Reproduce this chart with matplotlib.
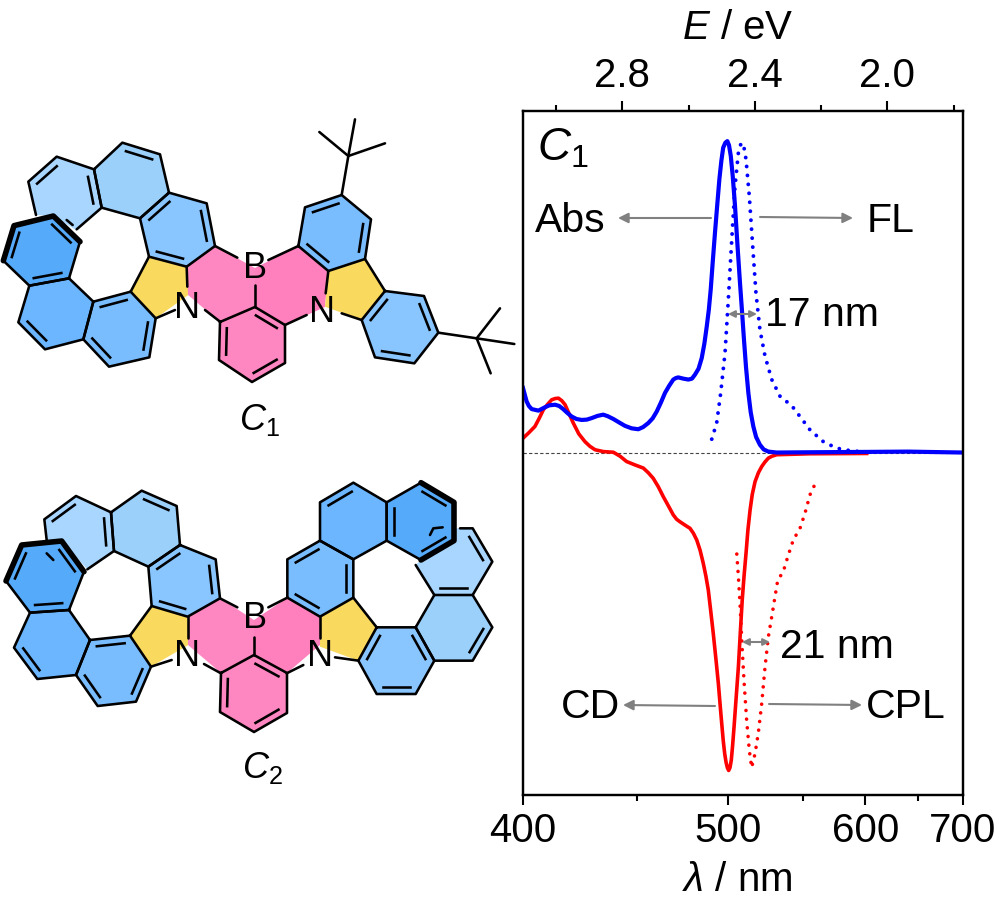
# plot.py - structures of C1 / C2 and their Abs, FL, CD, CPL spectra
import numpy as np
import matplotlib
matplotlib.use('Agg')
import matplotlib.pyplot as plt
from matplotlib.ticker import NullFormatter

plt.rcParams['font.family'] = ['Liberation Sans', 'DejaVu Sans']
plt.rcParams['mathtext.fontset'] = 'custom'
plt.rcParams['mathtext.rm'] = 'Liberation Sans'
plt.rcParams['mathtext.it'] = 'Liberation Sans:italic'

# spectra, normalised
abs_wl = [400, 401.4, 402.3, 403.4, 406.1, 408.8, 410.5, 412.9, 414.6, 416.3, 418, 419.9, 422, 424.2, 426.5,
          428.7, 431.3, 433.9, 436, 438.6, 441.3, 444.1, 447.3, 450.6, 453, 455.6, 457.8, 459.9, 462, 464.2,
          466.4, 468.6, 470, 471.3, 474, 476.8, 478.8, 480.5, 482.5, 484.3, 485.8, 487.2, 488.4, 489.5, 490.7,
          492.0, 493.3, 494.6, 495.8, 496.9, 498.2, 499.4, 500.4, 501.5, 502.7, 504.1, 505.6, 507.2, 508.4,
          509.7, 511, 512.5, 514, 515.7, 517.5, 520, 522.5, 525.6, 531.3, 560, 600, 640, 700]
abs_val = [.208, .165, .15, .14, .135, .146, .152, .154, .15, .14, .128, .116, .108, .105, .106,
           .111, .118, .122, .117, .108, .097, .086, .078, .075, .082, .095, .11, .132, .16, .192,
           .215, .235, .24, .242, .238, .235, .238, .251, .27, .304, .35, .406, .46, .525, .615,
           .708, .795, .88, .94, .982, .998, 1.003, .99, .955, .89, .794, .67, .546, .46,
           .364, .275, .192, .13, .084, .05, .025, .01, .003, 0, .001, .002, .003, 0]

fl_wl = [490.1, 493.0, 495.4, 498.0, 500, 502.1, 504.1, 506.2, 507.4, 508.6, 509.8, 511, 513.1, 515.3, 517.4,
         520, 523.4, 527.9, 533.6, 541.8, 547.8, 555.2, 565.4, 576, 587, 598.3]
fl_val = [.043, .095, .192, .321, .493, .686, .858, .966, .99, .998, .98, .944, .826, .664, .514,
          .396, .31, .235, .181, .151, .116, .073, .035, .014, .006, .002]

cd_wl = [400, 402.3, 404.7, 406.4, 408.1, 409.8, 411.5, 413, 414.3, 415.7, 417.1, 418.8, 420.6, 423, 425.7,
         427.9, 430.2, 434, 438.6, 441.8, 444.9, 449, 453.1, 455.6, 458.1, 460.7, 463.3, 466, 468.6, 470.4,
         472.2, 475, 477.7, 479.6, 481.5, 483.4, 485.2, 486.7, 488.1, 489.5, 491, 492.5, 494, 495.4, 496.9,
         497.8, 498.6, 499.4, 500.2, 501, 501.8, 502.6, 503.5, 504.8, 506.2, 507.4, 508.6, 509.8, 511, 512.2,
         513.6, 515, 516.8, 519, 521.2, 523.4, 525.6, 528, 531.3, 555.2, 601.3]
cd_val = [.046, .064, .084, .11, .138, .155, .17, .174, .175, .167, .154, .125, .095, .06, .035,
          .02, .009, .003, .001, -.012, -.029, -.04, -.05, -.065, -.083, -.11, -.142, -.172, -.201, -.215,
          -.223, -.234, -.244, -.26, -.282, -.315, -.357, -.398, -.443, -.51, -.583, -.662, -.744, -.835, -.927,
          -.97, -.997, -1.015, -1.024, -1.015, -.991, -.945, -.884, -.79, -.69, -.58, -.475, -.395, -.325, -.25,
          -.185, -.135, -.094, -.065, -.045, -.03, -.018, -.012, -.007, -.004, -.003]

cpl_wl = [505.2, 506.2, 507.2, 508.3, 509.7, 511.4, 513.1, 514.6, 516.8, 518.9, 521.2, 523.4, 525.6,
          527.9, 530.1, 532, 535.8, 539.4, 542.9, 547.8, 551.5, 555.2, 560.3]
cpl_val = [-.327, -.4, -.486, -.604, -.733, -.862, -.959, -1.015, -.97, -.905, -.808, -.69, -.594,
           -.529, -.465, -.411, -.384, -.33, -.282, -.244, -.195, -.136, -.09]

wl_major = [400, 500, 600, 700]
wl_minor = [450, 550, 650]
e_major = [2.8, 2.4, 2.0]
e_minor = [3.0, 2.6, 2.2, 1.8]

# ring colours
c_a, c_b, c_c = '#a9d6ff', '#9bd0fb', '#89c5fe'
c_d, c_e, c_f = '#79bdff', '#6bb6ff', '#56aafa'
pink, yellow = '#ff87c1', '#fad95f'
bond_lw = 1.85


def crop(pts, x0, y0):
    return [(x0 + x / 3, y0 + y / 3) for x, y in pts]


def draw_ring(ax, pts, color, doubles=(), outline=True):
    arr = np.array(pts)
    ax.fill(arr[:, 0], arr[:, 1], color=color, lw=0)
    if outline:
        closed = np.vstack([arr, arr[:1]])
        ax.plot(closed[:, 0], closed[:, 1], color='k', lw=bond_lw, solid_joinstyle='round')
    mid = arr.mean(axis=0)
    for i in doubles:
        p = arr[i] + 0.21 * (mid - arr[i])
        q = arr[(i + 1) % len(arr)] + 0.21 * (mid - arr[(i + 1) % len(arr)])
        a = p + 0.06 * (q - p)
        b = q - 0.06 * (q - p)
        ax.plot([a[0], b[0]], [a[1], b[1]], color='k', lw=bond_lw)


def draw_strokes(ax, strokes, lw=bond_lw):
    for s in strokes:
        arr = np.array(s)
        ax.plot(arr[:, 0], arr[:, 1], color='k', lw=lw, solid_capstyle='round', solid_joinstyle='round')


# C1, left half
c1_a = crop([(108, 315), (85, 215), (170, 140), (282, 178), (305, 293), (228, 360), (160, 318)], 0, 110)
c1_b = crop([(282, 178), (367, 98), (480, 133), (507, 248), (420, 325), (305, 293)], 0, 110)
c1_c = crop([(507, 248), (620, 280), (645, 408), (560, 470), (447, 440), (420, 325)], 0, 110)
c1_y1 = crop([(447, 440), (560, 470), (565, 555), (467, 625), (392, 545)], 0, 110)
c1_d = crop([(392, 545), (467, 625), (448, 742), (327, 770), (250, 688), (280, 575)], 0, 110)
c1_e = crop([(280, 575), (250, 688), (135, 718), (55, 637), (88, 527), (207, 505)], 0, 110)
c1_f = crop([(207, 505), (88, 527), (10, 452), (42, 347), (160, 318), (240, 395)], 0, 110)
c1_a_lines = crop([(108, 315), (85, 215), (170, 140), (282, 178), (305, 293), (230, 358)], 0, 110)
c1_frag = crop([(200, 330), (218, 345)], 0, 110)
c1_bold = crop([(10, 452), (42, 347), (160, 318), (240, 395)], 0, 110)
c1_left_bonds = [crop(s, 0, 110) for s in [[(645, 408), (712, 443)], [(560, 470), (562, 530)],
                                           [(615, 600), (660, 635)], [(467, 625), (525, 600)],
                                           [(765, 525), (765, 590)], [(447, 440), (392, 545)]]]
# C1, middle and right half
c1_p1 = [(215, 246), (187, 267), (188, 295), (220, 322), (255, 307), (255, 268)]
c1_p2 = [(298, 246), (328, 271), (325, 307), (285, 325), (255, 307), (255, 268)]
c1_mid = [(220, 322), (255, 307), (285, 325), (285, 363), (252, 382), (219, 360)]
c1_g = crop([(115, 408), (135, 292), (245, 255), (333, 328), (315, 447), (205, 483)], 260, 110)
c1_y2 = crop([(205, 483), (315, 447), (375, 543), (305, 630), (195, 590)], 260, 110)
c1_h = crop([(375, 543), (492, 558), (535, 668), (463, 760), (345, 742), (305, 630)], 260, 110)
c1_right_bonds = [crop(s, 260, 110) for s in [[(25, 450), (115, 408)], [(205, 483), (197, 550)],
                                              [(75, 645), (140, 615)], [(245, 610), (305, 630)],
                                              [(315, 447), (375, 543)],
                                              [(245, 255), (265, 138)], [(265, 138), (178, 66)],
                                              [(265, 138), (285, 28)], [(265, 138), (375, 100)],
                                              [(535, 668), (650, 685)], [(650, 685), (720, 595)],
                                              [(650, 685), (763, 702)], [(650, 685), (692, 790)]]]

# C2, left half
c2_a = crop([(140, 210), (133, 148), (228, 78), (333, 127), (342, 243), (262, 298), (185, 213)], 0, 470)
c2_b = crop([(333, 127), (425, 62), (530, 108), (540, 225), (445, 290), (342, 243)], 0, 470)
c2_c = crop([(540, 225), (647, 268), (660, 385), (563, 440), (455, 408), (445, 290)], 0, 470)
c2_y1 = crop([(455, 408), (563, 440), (565, 525), (453, 590), (390, 497)], 0, 470)
c2_d = crop([(390, 497), (453, 590), (408, 695), (293, 708), (228, 615), (270, 510)], 0, 470)
c2_e = crop([(270, 510), (228, 615), (112, 627), (42, 533), (90, 428), (207, 420)], 0, 470)
c2_f = crop([(207, 420), (90, 428), (18, 333), (65, 225), (185, 213), (252, 305)], 0, 470)
c2_a_lines = crop([(140, 210), (133, 148), (228, 78), (333, 127), (342, 243), (262, 298)], 0, 470)
c2_frag = crop([(140, 250), (160, 270)], 0, 470)
c2_bold = crop([(18, 333), (65, 225), (185, 213), (252, 305)], 0, 470)
c2_left_bonds = [crop(s, 0, 470) for s in [[(660, 385), (712, 412)], [(563, 440), (563, 505)],
                                           [(612, 582), (663, 610)], [(453, 590), (515, 570)],
                                           [(762, 500), (762, 555)], [(455, 408), (390, 497)]]]
# C2, middle and right half
c2_p1 = [(220, 598), (188, 617), (188, 645), (221, 673), (254, 655), (254, 620)]
c2_p2 = [(287, 598), (320, 617), (320, 645), (287, 673), (254, 655), (254, 620)]
c2_mid = [(221, 673), (254, 655), (287, 673), (287, 713), (254, 732), (220, 712)]
c2_g = crop([(82, 383), (82, 268), (180, 212), (280, 268), (280, 383), (180, 440)], 260, 470)
c2_h = crop([(180, 212), (180, 97), (280, 38), (380, 97), (380, 212), (280, 268)], 260, 470)
c2_i = crop([(380, 97), (483, 38), (582, 97), (582, 212), (483, 270), (380, 212)], 260, 470)
c2_y2 = crop([(180, 440), (280, 383), (350, 472), (295, 572), (180, 530)], 260, 470)
c2_j = crop([(350, 472), (467, 472), (523, 572), (467, 672), (350, 672), (295, 572)], 260, 470)
c2_k = crop([(467, 472), (523, 375), (638, 375), (697, 472), (638, 572), (523, 572)], 260, 470)
c2_l = crop([(467, 285), (523, 375), (638, 375), (697, 275), (638, 175), (590, 175), (483, 270)], 260, 470)
c2_bold2 = crop([(483, 38), (582, 97), (582, 212), (483, 270)], 260, 470)
c2_right_bonds = [crop(s, 260, 470) for s in [[(25, 412), (82, 383)], [(180, 440), (180, 505)],
                                              [(80, 610), (130, 585)], [(225, 562), (295, 572)],
                                              [(280, 383), (350, 472)], [(467, 285), (523, 375)],
                                              [(600, 175), (638, 175), (697, 275), (638, 375)],
                                              [(510, 195), (520, 175), (548, 172)]]]

fig = plt.figure(figsize=(10, 9.08), dpi=100)

# spectrum panel
ax = fig.add_axes([0.523, (908 - 795) / 908, 0.440, 684 / 908])
ax.set_xlim(400, 700)
ax.set_xscale('function', functions=(lambda w: -1 / w, lambda w: -1 / w))
ax.set_xlim(400, 700)
ax.set_ylim(-1.103, 1.1)
ax.axhline(0, color='#444444', lw=0.8, ls=(0, (3, 2)))
ax.plot(cd_wl, cd_val, color='#ff0000', lw=2.6, solid_joinstyle='round')
ax.plot(cpl_wl, cpl_val, color='#ff0000', lw=2.6, ls=(0, (0.01, 2.4)), dash_capstyle='round')
ax.plot(fl_wl, fl_val, color='#0000ff', lw=2.8, ls=(0, (0.01, 2.3)), dash_capstyle='round')
ax.plot(abs_wl, abs_val, color='#0000ff', lw=3.0, solid_joinstyle='round')
ax.set_yticks([])
ax.set_xticks(wl_major)
ax.set_xticks(wl_minor, minor=True)
ax.set_xticklabels([str(w) for w in wl_major])
ax.xaxis.set_minor_formatter(NullFormatter())
ax.tick_params(axis='x', which='major', length=7.5, width=1.5, labelsize=29, pad=4.5)
ax.tick_params(axis='x', which='minor', length=4, width=1.5)
ax.set_xlabel(r'$\mathit{\lambda}$ / nm', fontsize=29)
ax.xaxis.set_label_coords(0.487, -0.096)

top = ax.twiny()
top.set_xlim(1240 / 400, 1240 / 700)
top.set_xticks(e_major)
top.set_xticks(e_minor, minor=True)
top.set_xticklabels(['%.1f' % e for e in e_major])
top.tick_params(axis='x', which='major', length=7.5, width=1.5, labelsize=29, pad=4)
top.tick_params(axis='x', which='minor', length=4, width=1.5)
top.set_xlabel(r'$\mathit{E}$ / eV', fontsize=29)
top.xaxis.set_label_coords(0.489, 1.105)
for a in (ax, top):
    for sp in a.spines.values():
        sp.set_linewidth(1.6)

# page layer in pixels: structures, arrows and labels
page = fig.add_axes([0, 0, 1, 1], zorder=5)
page.set_xlim(0, 1000)
page.set_ylim(908, 0)
page.axis('off')
page.patch.set_alpha(0)

draw_ring(page, c1_a, c_a, (1, 3), outline=False)
draw_ring(page, c1_b, c_b, (1,))
draw_ring(page, c1_c, c_c, (1, 3, 5))
draw_ring(page, c1_y1, yellow, outline=False)
draw_ring(page, c1_d, c_d, (1, 3, 5))
draw_ring(page, c1_e, c_e, (2,))
draw_ring(page, c1_f, c_f, (0, 2, 4))
draw_ring(page, c1_p1, pink, outline=False)
draw_ring(page, c1_p2, '#ff80bc', outline=False)
draw_ring(page, c1_mid, pink, (1, 3, 5))
draw_ring(page, c1_g, c_d, (1, 3, 5))
draw_ring(page, c1_y2, yellow, outline=False)
draw_ring(page, c1_h, c_c, (1, 3, 5))
draw_strokes(page, [c1_a_lines, c1_frag] + c1_left_bonds + c1_right_bonds)
draw_strokes(page, [c1_bold], lw=4)

draw_ring(page, c2_a, c_a, (1, 3), outline=False)
draw_ring(page, c2_b, c_b, (1,))
draw_ring(page, c2_c, c_c, (1, 3, 5))
draw_ring(page, c2_y1, yellow, outline=False)
draw_ring(page, c2_d, c_d, (1, 3, 5))
draw_ring(page, c2_e, c_e, (2,))
draw_ring(page, c2_f, c_f, (0, 2, 4))
draw_ring(page, c2_p1, pink, outline=False)
draw_ring(page, c2_p2, '#ff80bc', outline=False)
draw_ring(page, c2_mid, pink, (1, 3, 5))
draw_ring(page, c2_l, c_a, (1, 3), outline=False)
draw_ring(page, c2_g, c_d, (1, 3, 5))
draw_ring(page, c2_h, c_e, (1,))
draw_ring(page, c2_i, c_f, (1, 3, 5))
draw_ring(page, c2_y2, yellow, outline=False)
draw_ring(page, c2_j, c_c, (1, 3, 5))
draw_ring(page, c2_k, c_b, (3,))
draw_strokes(page, [c2_a_lines, c2_frag] + c2_left_bonds + c2_right_bonds)
draw_strokes(page, [c2_bold, c2_bold2], lw=4)

for label, x, y in [('B', 255, 268), ('N', 187, 308), ('N', 322, 312),
                    ('B', 255, 618), ('N', 187, 657), ('N', 320, 657)]:
    page.text(x, y, label, fontsize=26, ha='center', va='center')
page.text(239, 430, r'$\mathit{C}_1$', fontsize=26)
page.text(242, 778, r'$\mathit{C}_2$', fontsize=26)

page.text(537, 161, r'$\mathit{C}_1$', fontsize=33, va='baseline')
for label, x, y in [('Abs', 535, 232), ('FL', 867, 232), ('17 nm', 765, 326),
                    ('21 nm', 780, 658), ('CD', 561, 718), ('CPL', 866, 718)]:
    page.text(x, y, label, fontsize=29.5, va='baseline')

arrows = [((711, 218), (618, 218)), ((760, 217), (853, 218)),
          ((715, 706), (623, 705)), ((769, 704), (862, 705))]
for start, end in arrows:
    page.annotate('', xy=end, xytext=start,
                  arrowprops=dict(arrowstyle='-|>', color='#808080', lw=1.5,
                                  mutation_scale=15, shrinkA=0, shrinkB=0))
for start, end in [((728, 314), (757, 314)), ((742, 642), (770, 642))]:
    page.annotate('', xy=end, xytext=start,
                  arrowprops=dict(arrowstyle='<|-|>', color='#808080', lw=1.5,
                                  mutation_scale=10, shrinkA=0, shrinkB=0))

fig.savefig('out.png', dpi=100)
